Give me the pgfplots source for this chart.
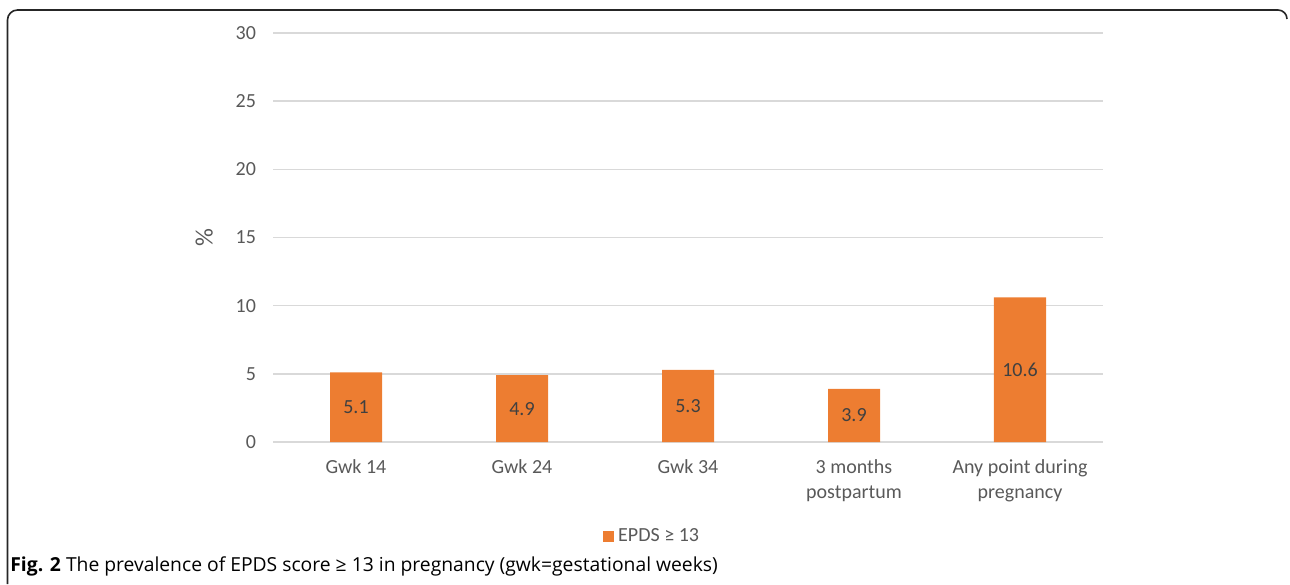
\documentclass[border=0pt]{standalone}
\usepackage{fontspec}
\setmainfont{Carlito}
\newfontfamily\capfont{Open Sans}
\usepackage{pgfplots}
\pgfplotsset{compat=1.18}
\definecolor{barorange}{HTML}{ED7D31}
\definecolor{gridgray}{HTML}{D9D9D9}
\definecolor{ticktext}{HTML}{595959}
\definecolor{labeltext}{HTML}{404040}
\begin{document}
\begin{tikzpicture}
\path[use as bounding box] (0,0) rectangle (645pt,-292pt);
% frame
\draw[line width=0.8pt, black!85] (3.75pt,-292pt) -- (3.75pt,-10pt) arc[start angle=180,end angle=90,radius=5pt] -- (639pt,-5pt) arc[start angle=90,end angle=0,radius=4.5pt];
\begin{axis}[
  at={(136.5pt,-221pt)}, anchor=south west,
  scale only axis, width=415pt, height=204.5pt,
  xmin=-0.5, xmax=4.5, ymin=0, ymax=30,
  ytick={0,5,...,30},
  xtick={0,1,2,3,4},
  xticklabels={Gwk 14,Gwk 24,Gwk 34,{3 months\\postpartum},{Any point during\\pregnancy}},
  /pgf/number format/assume math mode=true,
  ymajorgrids, grid style={draw=gridgray, line width=0.75pt},
  axis line style={draw=none}, tick style={draw=none}, major tick length=0pt,
  tick label style={font=\fontsize{10}{12.5}\selectfont, text=ticktext},
  yticklabel style={xshift=-5pt},
  xticklabel style={align=center, yshift=-5.5pt},
  legend style={draw=none, at={(rel axis cs:0.458,-0.23)}, anchor=center, font=\fontsize{10}{12}\selectfont, text=ticktext, legend columns=1, inner sep=0pt},
  legend image code/.code={\fill[barorange] (0pt,-2.75pt) rectangle (5.5pt,2.75pt);},
  clip=false,
]
\addplot[ybar, bar width=26pt, fill=barorange, draw=none,
  nodes near coords, point meta=explicit symbolic,
  visualization depends on={y \as \rawy},
  every node near coord/.append style={anchor=center, font=\fontsize{10}{12}\selectfont, text=labeltext, yshift=-\rawy*3.408pt},
] coordinates {(0,5.1)[5.1] (1,4.9)[4.9] (2,5.3)[5.3] (3,3.9)[3.9] (4,10.6)[10.6]};
\addlegendentry{EPDS ≥ 13}
\node[rotate=90, font=\fontsize{12.5}{14}\selectfont, text=ticktext] at (rel axis cs:-0.083,0.5) {\%};
\end{axis}
\node[anchor=base west, inner sep=0pt, font=\capfont\fontsize{9.65}{11}\selectfont] at (5pt,-285.5pt) {\textbf{Fig. 2} The prevalence of EPDS score ≥ 13 in pregnancy (gwk=gestational weeks)};
\end{tikzpicture}
\end{document}
